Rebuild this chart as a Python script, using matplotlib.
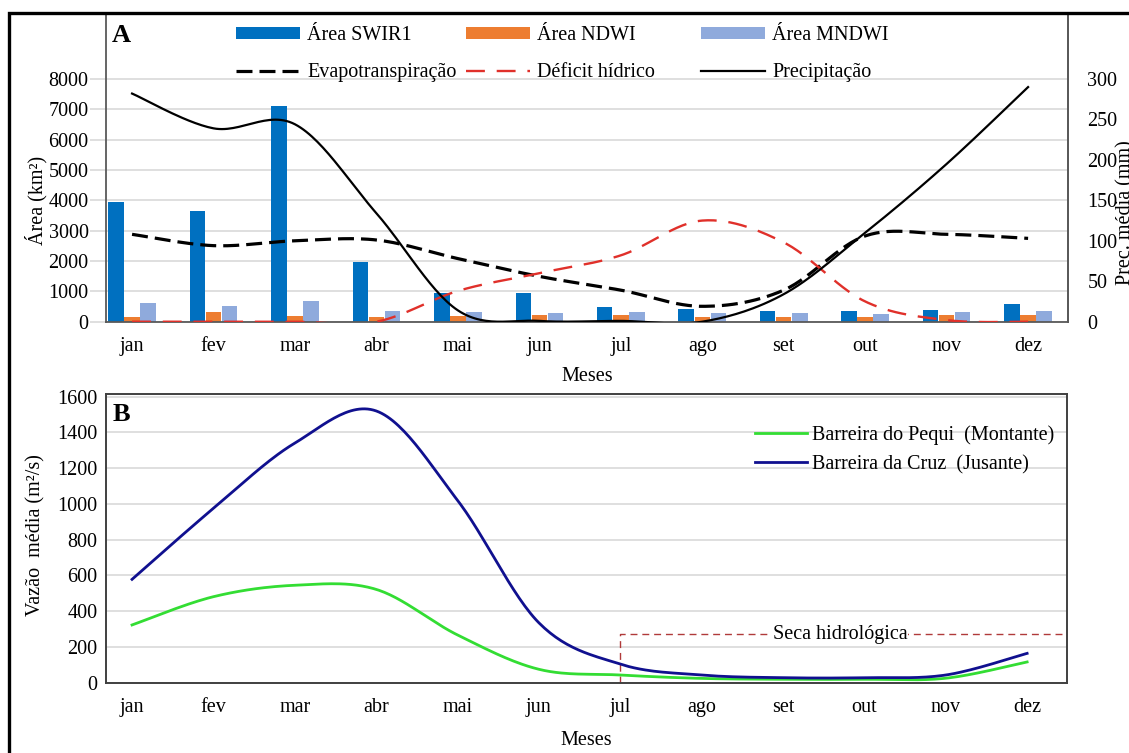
import numpy as np
import matplotlib
matplotlib.use("Agg")
import matplotlib.pyplot as plt
from matplotlib.patches import Rectangle

plt.rcParams["font.family"] = ["Liberation Serif", "DejaVu Serif"]
plt.rcParams["font.size"] = 14.5

# dados
meses = ["jan", "fev", "mar", "abr", "mai", "jun", "jul", "ago", "set", "out", "nov", "dez"]

area_swir1 = [3950, 3660, 7110, 1960, 956, 956, 494, 419, 363, 343, 386, 573]
area_ndwi = [165, 330, 190, 145, 190, 212, 212, 165, 165, 145, 212, 220]
area_mndwi = [627, 517, 682, 363, 330, 300, 320, 300, 280, 270, 320, 353]

evapotranspiracao = [108, 94, 100, 101, 78, 56, 39, 19, 39, 106, 108, 103]
deficit_hidrico = [0, 0, 0, 0, 38, 60, 82, 125, 98, 25, 2, 0]
precipitacao = [282, 239, 244, 134, 14, 1, 1, 0, 34, 110, 195, 290]

vazao_pequi = [323, 481, 545, 522, 267, 75, 43, 24, 19, 19, 25, 116]
vazao_cruz = [578, 975, 1340, 1520, 1020, 335, 104, 43, 28, 28, 43, 164]

seca_inicio = "jul"
seca_nivel = 272

W, H = 1129, 753


def fx(px):
    return px / W


def fy(py):
    return 1 - py / H


# suavização tipo Excel (Bezier / Catmull-Rom)
def _suavizar(x, y, n=30):
    x = np.asarray(x, float)
    y = np.asarray(y, float)
    P = np.column_stack([x, y])
    Pe = np.vstack([P[0], P, P[-1]])
    out = []
    for i in range(len(P) - 1):
        p0, p1, p2, p3 = Pe[i], Pe[i + 1], Pe[i + 2], Pe[i + 3]
        c1 = p1 + (p2 - p0) / 6
        c2 = p2 - (p3 - p1) / 6
        t = np.linspace(0, 1, n)[:, None]
        seg = ((1 - t) ** 3) * p1 + 3 * ((1 - t) ** 2) * t * c1 + 3 * (1 - t) * t ** 2 * c2 + t ** 3 * p2
        out.append(seg if i == 0 else seg[1:])
    out = np.vstack(out)
    return out[:, 0], out[:, 1]


x = np.arange(len(meses))
xlim = (-0.32, 11.49)
grid_c = "#d9d9d9"
spine_c = "#595959"

fig = plt.figure(figsize=(W / 100, H / 100), dpi=100)

# moldura externa
fig.patches.append(Rectangle((fx(9), fy(H + 20)), 1.2, fy(12.7) - fy(H + 20),
                             transform=fig.transFigure, fill=False,
                             edgecolor="black", linewidth=2.4, zorder=10))

# ---------------- Painel A ----------------
axA = fig.add_axes([fx(106), fy(321.7), fx(1068) - fx(106), fy(12.7) - fy(321.7)])
ymaxA = 10185
w = 0.19
d = 0.197
b1 = axA.bar(x - d, area_swir1, w, color="#0070C0", label="Área SWIR1", zorder=2)
b2 = axA.bar(x, area_ndwi, w, color="#ED7D31", label="Área NDWI", zorder=2)
b3 = axA.bar(x + d, area_mndwi, w, color="#8FAADC", label="Área MNDWI", zorder=2)
axA.set_xlim(*xlim)
axA.set_ylim(0, ymaxA)
axA.set_yticks(np.arange(0, 8001, 1000))
axA.grid(axis="y", color=grid_c, linewidth=1.2, zorder=0)
axA.set_axisbelow(True)
axA.set_xticks(x)
axA.set_xticklabels(meses)
axA.tick_params(axis="x", length=0, pad=11)
axA.tick_params(axis="y", length=11.5, color=grid_c, width=1.2, pad=1)
axA.set_xlabel("Meses", labelpad=8)
axA.spines["top"].set_visible(False)
for s in ["left", "right", "bottom"]:
    axA.spines[s].set_color(spine_c)
    axA.spines[s].set_linewidth(1.3)

axR = axA.twinx()
axR.set_ylim(0, ymaxA * 300 / 8000)
axR.set_yticks(np.arange(0, 301, 50))
axR.tick_params(axis="y", length=0, pad=14)
axR.spines["top"].set_visible(False)
axR.spines["right"].set_color(spine_c)
axR.spines["right"].set_linewidth(1.3)
axR.spines["left"].set_visible(False)
axR.spines["bottom"].set_visible(False)

xs, ys = _suavizar(x, evapotranspiracao)
l1, = axR.plot(xs, ys, color="black", linewidth=2.3, dashes=(5, 2.2), label="Evapotranspiração")
xs, ys = _suavizar(x, deficit_hidrico)
l2, = axR.plot(xs, ys, color="#E0302A", linewidth=1.7, dashes=(8, 5), label="Déficit hídrico")
xs, ys = _suavizar(x, precipitacao)
l3, = axR.plot(xs, ys, color="black", linewidth=1.6, label="Precipitação")

fig.text(fx(36), fy(200), "Área (km²)", rotation=90, ha="center", va="center")
fig.text(fx(1126), fy(213), "Prec. média (mm)", rotation=90, ha="center", va="center")
fig.text(fx(112), fy(24), "A", fontsize=19, fontweight="bold", ha="left", va="top")

col_x = [236, 466, 701]
for cx, hs in zip(col_x, [(b1, l1), (b2, l2), (b3, l3)]):
    fig.legend(handles=list(hs), loc="upper left", bbox_to_anchor=(fx(cx), fy(26)),
               frameon=False, handlelength=3.2, handleheight=0.5, handletextpad=0.35,
               labelspacing=0.9, borderpad=0, borderaxespad=0)

# ---------------- Painel B ----------------
axB = fig.add_axes([fx(106), fy(682.7), fx(1067) - fx(106), fy(394.3) - fy(682.7)])
xs, ys = _suavizar(x, vazao_pequi)
g1, = axB.plot(xs, ys, color="#33DD33", linewidth=2.0, label="Barreira do Pequi  (Montante)")
xs, ys = _suavizar(x, vazao_cruz)
g2, = axB.plot(xs, ys, color="#10108F", linewidth=2.0, label="Barreira da Cruz  (Jusante)")
axB.set_xlim(*xlim)
axB.set_ylim(0, 1613)
axB.set_yticks(np.arange(0, 1601, 200))
axB.grid(axis="y", color=grid_c, linewidth=1.2, zorder=0)
axB.set_axisbelow(True)
axB.set_xticks(x)
axB.set_xticklabels(meses)
axB.tick_params(axis="x", length=0, pad=11)
axB.tick_params(axis="y", length=0, pad=6)
axB.set_xlabel("Meses", labelpad=10)
for s in axB.spines.values():
    s.set_color("#404040")
    s.set_linewidth(1.4)

xi = meses.index(seca_inicio)
axB.plot([xi, xi, xlim[1]], [0, seca_nivel, seca_nivel], color="#B03A3A",
         linewidth=1.0, dashes=(5, 3.5), clip_on=False, zorder=1)
axB.text(8.7, seca_nivel, "Seca hidrológica", ha="center", va="center",
         bbox=dict(facecolor="white", edgecolor="none", pad=0.5), zorder=3)

axB.legend(handles=[g1, g2], loc="upper left", bbox_to_anchor=(fx(755), fy(425)),
           bbox_transform=fig.transFigure, frameon=False, handlelength=2.6,
           handletextpad=0.25, labelspacing=0.5, borderpad=0, borderaxespad=0)

fig.text(fx(36), fy(535), "Vazão  média (m²/s)", rotation=90, ha="center", va="center")
fig.text(fx(113), fy(403), "B", fontsize=19, fontweight="bold", ha="left", va="top")

fig.savefig("out.png", dpi=100)
